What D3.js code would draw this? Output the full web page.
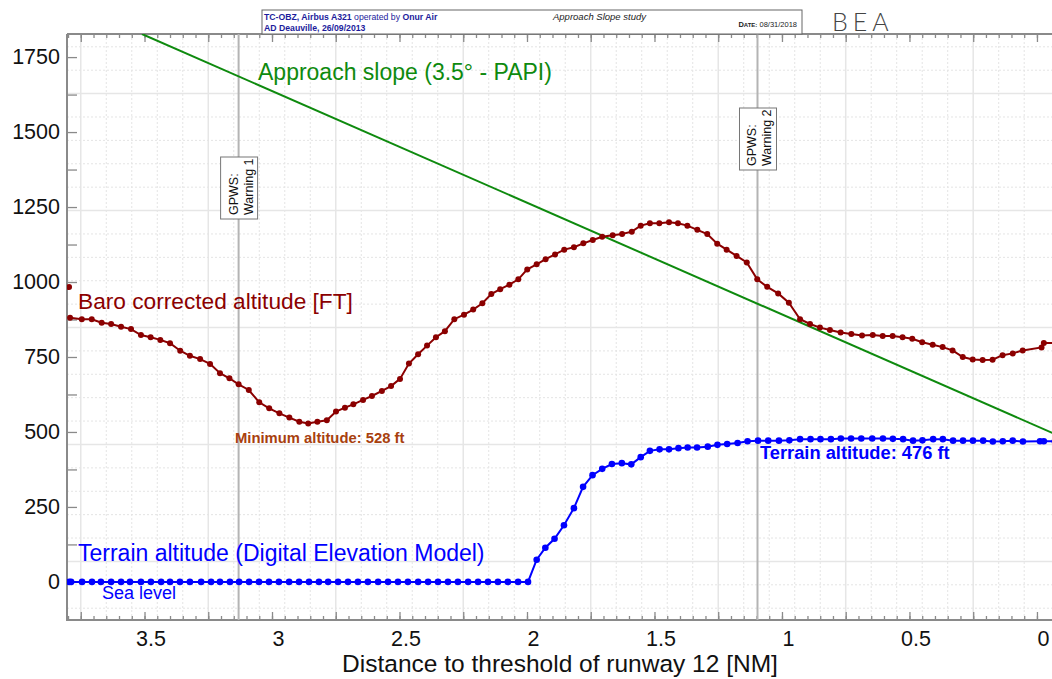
<!DOCTYPE html>
<html>
<head>
<meta charset="utf-8">
<script src="https://cdn.jsdelivr.net/npm/d3@7"></script>
<style>
  body { margin: 0; background: #fff; }
  svg { display: block; font-family: "Liberation Sans", Arial, sans-serif; }
</style>
</head>
<body>
<svg id="chart" width="1052" height="679"></svg>
<script>
// distance to threshold [NM] / altitude [ft]
var baroDist = [3.792, 3.746, 3.707, 3.668, 3.631, 3.592, 3.553, 3.514, 3.476, 3.438,
    3.400, 3.360, 3.322, 3.282, 3.243, 3.204, 3.167, 3.131, 3.091, 3.050,
    3.011, 2.971, 2.932, 2.893, 2.858, 2.822, 2.785, 2.749, 2.714, 2.681,
    2.643, 2.608, 2.569, 2.533, 2.498, 2.463, 2.427, 2.392, 2.357, 2.322,
    2.285, 2.247, 2.211, 2.175, 2.140, 2.105, 2.069, 2.034, 1.999, 1.962,
    1.927, 1.890, 1.854, 1.816, 1.779, 1.742, 1.705, 1.664, 1.627, 1.589,
    1.554, 1.518, 1.481, 1.443, 1.408, 1.371, 1.332, 1.293, 1.254, 1.217,
    1.178, 1.138, 1.097, 1.058, 1.015, 0.973, 0.929, 0.890, 0.851, 0.812,
    0.770, 0.728, 0.686, 0.644, 0.605, 0.566, 0.527, 0.489, 0.450, 0.409,
    0.370, 0.331, 0.291, 0.252, 0.213, 0.174, 0.135, 0.095, 0.056, -0.018,
    -0.027, -0.075];
var baroAlt = [881, 876, 876, 864, 860, 851, 843, 823, 816, 807,
    796, 771, 754, 743, 727, 696, 679, 659, 640, 599,
    579, 562, 548, 534, 528, 534, 539, 568, 581, 592,
    607, 620, 637, 653, 677, 728, 759, 788, 816, 836,
    876, 891, 908, 929, 960, 976, 991, 1009, 1042, 1059,
    1076, 1092, 1108, 1116, 1129, 1140, 1151, 1156, 1160, 1168,
    1188, 1196, 1196, 1199, 1196, 1188, 1174, 1160, 1128, 1108,
    1087, 1065, 1009, 984, 962, 931, 876, 860, 848, 840,
    832, 827, 822, 823, 820, 820, 816, 811, 799, 791,
    783, 772, 750, 742, 740, 741, 756, 762, 772, 782,
    797, 797];
// lone first sample, not joined to the line
var baroStrayDist = [3.796];
var baroStrayAlt = [983];

var terrainDist = [3.796, 3.788, 3.745, 3.706, 3.671, 3.631, 3.592, 3.557, 3.514, 3.475,
    3.435, 3.400, 3.361, 3.322, 3.278, 3.239, 3.204, 3.165, 3.129, 3.090,
    3.051, 3.012, 2.973, 2.933, 2.894, 2.855, 2.816, 2.780, 2.741, 2.702,
    2.663, 2.624, 2.584, 2.545, 2.506, 2.467, 2.427, 2.388, 2.349, 2.310,
    2.271, 2.231, 2.192, 2.153, 2.114, 2.075, 2.035, 1.996,
    1.962, 1.928, 1.892, 1.855, 1.816, 1.780, 1.743, 1.705, 1.667, 1.628,
    1.591, 1.554, 1.518, 1.480, 1.443, 1.406, 1.370, 1.333, 1.291, 1.253,
    1.215, 1.174, 1.135, 1.094, 1.054, 1.012, 0.971, 0.929, 0.888, 0.849,
    0.808, 0.769, 0.729, 0.689, 0.646, 0.604, 0.565, 0.525, 0.486, 0.449,
    0.407, 0.369, 0.329, 0.290, 0.251, 0.211, 0.173, 0.134, 0.095, 0.055,
    -0.012, -0.027, -0.070];
var terrainAlt = [0, 0, 0, 0, 0, 0, 0, 0, 0, 0,
    0, 0, 0, 0, 0, 0, 0, 0, 0, 0,
    0, 0, 0, 0, 0, 0, 0, 0, 0, 0,
    0, 0, 0, 0, 0, 0, 0, 0, 0, 0,
    0, 0, 0, 0, 0, 0, 0, 0,
    74, 114, 144, 189, 246, 317, 356, 377, 393, 396,
    392, 416, 437, 442, 442, 446, 448, 448, 451, 457,
    460, 463, 469, 471, 471, 471, 472, 476, 476, 476,
    476, 478, 478, 478, 478, 478, 477, 476, 471, 472,
    476, 476, 471, 471, 471, 471, 468, 469, 471, 468,
    469, 469, 469];

// 3.5 deg PAPI slope, its two ends
var slopeDist = [3.51, -0.06];
var slopeAlt = [1827, 497];

var gpwsDist = [3.131, 1.096];
var gpwsNames = ["Warning 1", "Warning 2"];

var xTickLabels = [3.5, 3, 2.5, 2, 1.5, 1, 0.5, 0];
var yTickLabels = [0, 250, 500, 750, 1000, 1250, 1500, 1750];

var plotL = 67, plotT = 34, plotR = 1052, plotB = 620;
var axisGrey = "#8a8a8a";

var x = d3.scaleLinear().domain([3.804, -0.059]).range([plotL, plotR]);
var y = d3.scaleLinear().domain([-127, 1827]).range([plotB, plotT]);

var svg = d3.select("#chart");

svg.append("defs").append("clipPath").attr("id", "plot-clip")
    .append("rect")
    .attr("x", plotL).attr("y", plotT)
    .attr("width", plotR - plotL).attr("height", plotB - plotT);

// grid (offset from the ticks, as in the original)
var grid = svg.append("g").attr("class", "grid");
var vGrid = d3.range(0.05, 3.8, 0.1);
grid.selectAll("line.v")
    .data(vGrid)
    .enter().append("line")
    .attr("class", "v")
    .attr("x1", function(d) { return x(d); })
    .attr("x2", function(d) { return x(d); })
    .attr("y1", plotT).attr("y2", plotB)
    .attr("stroke", function(d, i) { return (i % 5 == 2) ? "#e6e6e6" : "#e4e4e4"; })
    .attr("stroke-width", function(d, i) { return (i % 5 == 2) ? 1.5 : 1; })
    .attr("stroke-dasharray", function(d, i) { return (i % 5 == 2) ? null : "2,2"; });

var hGrid = d3.range(-87.7, 1827, 78);
grid.selectAll("line.h")
    .data(hGrid)
    .enter().append("line")
    .attr("class", "h")
    .attr("x1", plotL).attr("x2", plotR)
    .attr("y1", function(d) { return y(d); })
    .attr("y2", function(d) { return y(d); })
    .attr("stroke", function(d, i) { return (i % 5 == 2) ? "#e6e6e6" : "#e4e4e4"; })
    .attr("stroke-width", function(d, i) { return (i % 5 == 2) ? 1.5 : 1; })
    .attr("stroke-dasharray", function(d, i) { return (i % 5 == 2) ? null : "2,2"; });

// axes: ticks inside, box frame on left / bottom / top
var minorX = d3.range(0, 3.81, 0.05);
var majorX = d3.range(0, 3.81, 0.25);

function xTicks(sel, axisFn, size, vals) {
    sel.call(axisFn(x).tickValues(vals).tickSize(size).tickFormat(""));
    sel.select(".domain").remove();
    sel.selectAll(".tick line").attr("stroke", axisGrey).attr("stroke-width", 1.3);
}

var gBottom = svg.append("g").attr("transform", "translate(0," + plotB + ")");
xTicks(gBottom.append("g"), d3.axisBottom, -4, minorX);
xTicks(gBottom.append("g"), d3.axisBottom, -8, majorX);

var gTop = svg.append("g").attr("transform", "translate(0," + plotT + ")");
xTicks(gTop.append("g"), d3.axisTop, -4, minorX);
xTicks(gTop.append("g"), d3.axisTop, -8, majorX);

var xLabels = gBottom.append("g")
    .call(d3.axisBottom(x).tickValues(xTickLabels).tickSize(0).tickPadding(11)
        .tickFormat(d3.format("~g")));
xLabels.select(".domain").remove();
xLabels.selectAll("text")
    .attr("dx", 6)
    .attr("font-size", 21.5)
    .attr("font-family", "Liberation Sans, Arial, sans-serif")
    .attr("fill", "#111");

var gLeft = svg.append("g").attr("transform", "translate(" + plotL + ",0)");
gLeft.call(d3.axisLeft(y).tickValues(d3.range(-125, 1827, 125)).tickSize(-10).tickFormat(""));
gLeft.select(".domain").remove();
gLeft.selectAll(".tick line").attr("stroke", axisGrey).attr("stroke-width", 1.3);

var yLabels = gLeft.append("g")
    .call(d3.axisLeft(y).tickValues(yTickLabels).tickSize(0).tickPadding(7)
        .tickFormat(d3.format("d")));
yLabels.select(".domain").remove();
yLabels.selectAll("text")
    .attr("font-size", 21.5)
    .attr("font-family", "Liberation Sans, Arial, sans-serif")
    .attr("fill", "#111");

svg.append("path")
    .attr("d", "M" + plotL + "," + plotT + "V" + plotB + "H" + plotR)
    .attr("fill", "none").attr("stroke", axisGrey).attr("stroke-width", 2);
svg.append("line")
    .attr("x1", plotL).attr("x2", plotR).attr("y1", plotT).attr("y2", plotT)
    .attr("stroke", axisGrey).attr("stroke-width", 2);

svg.append("text")
    .attr("x", 560).attr("y", 672)
    .attr("text-anchor", "middle")
    .attr("font-size", 24.5)
    .attr("fill", "#111")
    .text("Distance to threshold of runway 12 [NM]");

// plot content
var plot = svg.append("g").attr("clip-path", "url(#plot-clip)");

// GPWS warning lines
plot.selectAll("line.gpws")
    .data(gpwsDist)
    .enter().append("line")
    .attr("class", "gpws")
    .attr("x1", function(d) { return x(d); })
    .attr("x2", function(d) { return x(d); })
    .attr("y1", plotT).attr("y2", plotB)
    .attr("stroke", "#b4b4b4").attr("stroke-width", 2);

var line = d3.line()
    .x(function(d) { return x(d[0]); })
    .y(function(d) { return y(d[1]); });

plot.append("path")
    .datum(d3.zip(slopeDist, slopeAlt))
    .attr("d", line)
    .attr("fill", "none")
    .attr("stroke", "#0e8a0e")
    .attr("stroke-width", 2);

var terrain = d3.zip(terrainDist, terrainAlt);
plot.append("path")
    .datum(terrain)
    .attr("d", line)
    .attr("fill", "none")
    .attr("stroke", "#0000ff")
    .attr("stroke-width", 2);
plot.selectAll("circle.terrain")
    .data(terrain)
    .enter().append("circle")
    .attr("class", "terrain")
    .attr("cx", function(d) { return x(d[0]); })
    .attr("cy", function(d) { return y(d[1]); })
    .attr("r", 3.3)
    .attr("fill", "#0000ff");

var baro = d3.zip(baroDist, baroAlt);
plot.append("path")
    .datum(baro)
    .attr("d", line)
    .attr("fill", "none")
    .attr("stroke", "#8b0000")
    .attr("stroke-width", 2);
plot.selectAll("circle.baro")
    .data(baro.concat(d3.zip(baroStrayDist, baroStrayAlt)))
    .enter().append("circle")
    .attr("class", "baro")
    .attr("cx", function(d) { return x(d[0]); })
    .attr("cy", function(d) { return y(d[1]); })
    .attr("r", 3)
    .attr("fill", "#8b0000");

// GPWS boxes
var boxTop = [157, 108];
var boxes = svg.selectAll("g.gpwsbox")
    .data(gpwsDist)
    .enter().append("g")
    .attr("class", "gpwsbox")
    .attr("transform", function(d, i) { return "translate(" + x(d) + "," + boxTop[i] + ")"; });
boxes.append("rect")
    .attr("x", -18).attr("y", 0)
    .attr("width", 37).attr("height", 62)
    .attr("fill", "#fff")
    .attr("stroke", "#777").attr("stroke-width", 1);
boxes.append("text")
    .attr("transform", "translate(-1,58) rotate(-90)")
    .attr("font-size", 12.5)
    .attr("fill", "#111")
    .text("GPWS:");
boxes.append("text")
    .attr("transform", "translate(14,58) rotate(-90)")
    .attr("font-size", 12.5)
    .attr("fill", "#111")
    .text(function(d, i) { return gpwsNames[i]; });

// annotations
svg.append("text").attr("x", 258).attr("y", 80)
    .attr("font-size", 23).attr("fill", "#0e8a0e")
    .text("Approach slope (3.5\u00b0 - PAPI)");
svg.append("text").attr("x", 78).attr("y", 309)
    .attr("font-size", 22.7).attr("fill", "#8b0000")
    .text("Baro corrected altitude [FT]");
svg.append("text").attr("x", 235).attr("y", 443)
    .attr("font-size", 14.8).attr("font-weight", "bold").attr("fill", "#a8400e")
    .text("Minimum altitude: 528 ft");
svg.append("text").attr("x", 760).attr("y", 459)
    .attr("font-size", 18.3).attr("font-weight", "bold").attr("fill", "#0000ff")
    .text("Terrain altitude: 476 ft");
svg.append("text").attr("x", 78).attr("y", 561)
    .attr("font-size", 23).attr("fill", "#0000ff")
    .text("Terrain altitude (Digital Elevation Model)");
svg.append("text").attr("x", 102).attr("y", 599)
    .attr("font-size", 18).attr("fill", "#0000ff")
    .text("Sea level");

// header
var head = svg.append("g");
head.append("rect")
    .attr("x", 262).attr("y", 10)
    .attr("width", 540).attr("height", 24)
    .attr("fill", "#fff").attr("stroke", "#666").attr("stroke-width", 1);
var l1 = head.append("text").attr("x", 264).attr("y", 20)
    .attr("font-size", 8.7).attr("fill", "#1c1c9c");
l1.append("tspan").attr("font-weight", "bold").text("TC-OBZ, Airbus A321");
l1.append("tspan").text(" operated by ");
l1.append("tspan").attr("font-weight", "bold").text("Onur Air");
head.append("text").attr("x", 264).attr("y", 30.5)
    .attr("font-size", 8.7).attr("font-weight", "bold").attr("fill", "#1c1c9c")
    .text("AD Deauville, 26/09/2013");
head.append("text").attr("x", 553).attr("y", 20)
    .attr("font-size", 9.5).attr("font-style", "italic").attr("fill", "#222")
    .text("Approach Slope study");
var dt = head.append("text").attr("x", 797).attr("y", 27)
    .attr("text-anchor", "end")
    .attr("font-size", 7.5).attr("fill", "#222");
dt.append("tspan").attr("font-weight", "bold").text("D");
dt.append("tspan").attr("font-weight", "bold").attr("font-size", 6).text("ATE:");
dt.append("tspan").text(" 08/31/2018");
head.append("text").attr("x", 832).attr("y", 31)
    .attr("font-size", 25)
    .attr("font-family", "Lato, 'DejaVu Sans', sans-serif")
    .attr("font-weight", 300)
    .attr("letter-spacing", 5)
    .attr("fill", "#444")
    .text("BEA");
</script>
</body>
</html>
